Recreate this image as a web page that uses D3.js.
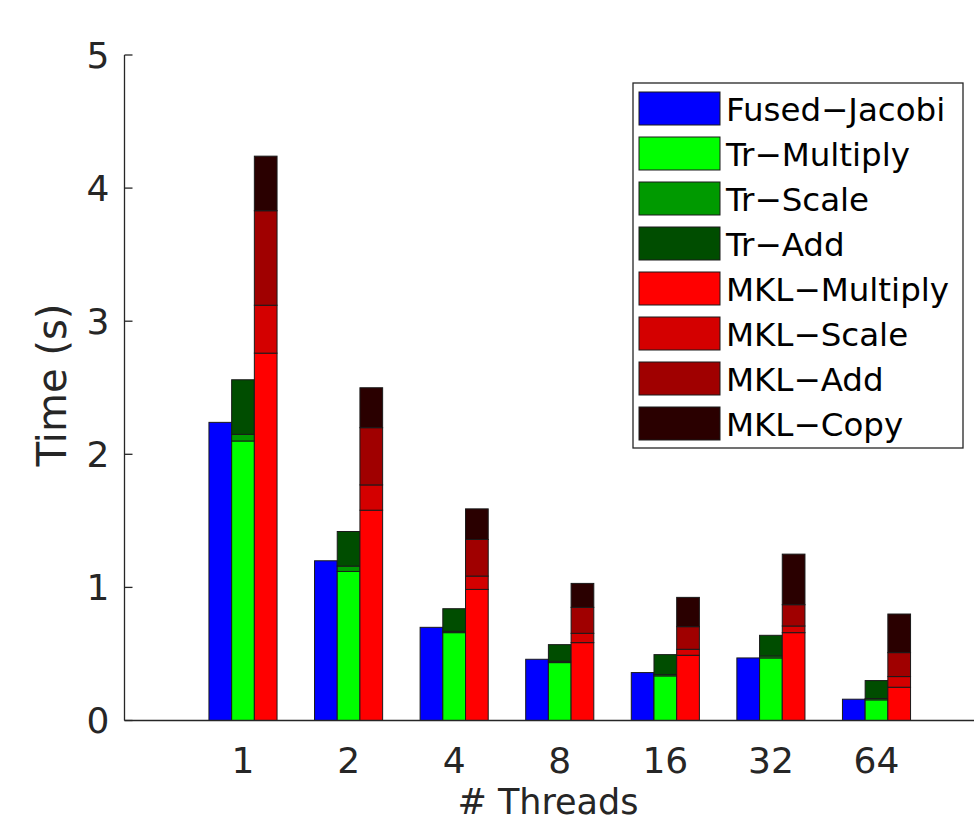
<!DOCTYPE html>
<html>
<head>
<meta charset="utf-8">
<script src="https://cdn.jsdelivr.net/npm/d3@7/dist/d3.min.js"></script>
<style>
  html, body { margin: 0; padding: 0; background: #fff; }
  svg { display: block; font-family: "DejaVu Sans", sans-serif; }
</style>
</head>
<body>
<svg id="chart" width="974" height="832"></svg>
<script>
// ---- data ----
const threads = ["1", "2", "4", "8", "16", "32", "64"];
const yTicks = [0, 1, 2, 3, 4, 5];
const seriesNames = ["Fused−Jacobi", "Tr−Multiply", "Tr−Scale", "Tr−Add", "MKL−Multiply", "MKL−Scale", "MKL−Add", "MKL−Copy"];
const seriesColors = ["#0000ff", "#00ff00", "#009a00", "#004d00", "#ff0000", "#d40000", "#a00000", "#2a0000"];
// segment heights (seconds)
const fusedJacobi = [2.24, 1.20, 0.70, 0.46, 0.36, 0.47, 0.16];
const trMultiply  = [2.10, 1.12, 0.66, 0.435, 0.335, 0.47, 0.155];
const trScale     = [0.05, 0.04, 0.01, 0.01, 0.01, 0.015, 0.01];
const trAdd       = [0.41, 0.26, 0.17, 0.125, 0.15, 0.155, 0.135];
const mklMultiply = [2.76, 1.58, 0.985, 0.585, 0.49, 0.66, 0.25];
const mklScale    = [0.36, 0.19, 0.10, 0.07, 0.045, 0.05, 0.08];
const mklAdd      = [0.71, 0.43, 0.275, 0.195, 0.17, 0.16, 0.18];
const mklCopy     = [0.41, 0.30, 0.23, 0.18, 0.22, 0.38, 0.29];

const bars = [
  { offset: -1, series: [0], values: [fusedJacobi] },
  { offset: 0, series: [1, 2, 3], values: [trMultiply, trScale, trAdd] },
  { offset: 1, series: [4, 5, 6, 7], values: [mklMultiply, mklScale, mklAdd, mklCopy] }
];

// ---- layout ----
const svg = d3.select("#chart");
const x = d3.scaleLinear().domain([1, 7]).range([243, 876.5]);
const xLeft = x.invert(124.5), xRight = x.invert(974);
const y = d3.scaleLinear().domain([0, 5]).range([720.5, 55]);
const barW = x(1.215) - x(1);
const axisColor = "#262626";

// ticks (drawn under bars)
svg.append("g").selectAll("line").data(threads).join("line")
  .attr("x1", (d, i) => x(i + 1)).attr("x2", (d, i) => x(i + 1))
  .attr("y1", y(0)).attr("y2", y(0) - 8)
  .attr("stroke", axisColor).attr("stroke-width", 1);

// bars
const segs = [];
bars.forEach(b => {
  threads.forEach((t, i) => {
    let cum = 0;
    b.values.forEach((arr, k) => {
      segs.push({ i, offset: b.offset, y0: cum, y1: cum + arr[i], color: seriesColors[b.series[k]] });
      cum += arr[i];
    });
  });
});
svg.append("g").selectAll("rect").data(segs).join("rect")
  .attr("x", d => x(d.i + 1) + d.offset * barW - barW / 2)
  .attr("width", barW)
  .attr("y", d => y(d.y1))
  .attr("height", d => y(d.y0) - y(d.y1))
  .attr("fill", d => d.color)
  .attr("stroke", "#1a1a1a").attr("stroke-width", 1);

// y axis
const yAxis = svg.append("g");
yAxis.append("line").attr("x1", x(xLeft)).attr("x2", x(xLeft))
  .attr("y1", y(0)).attr("y2", y(5)).attr("stroke", axisColor).attr("stroke-width", 1.3);
yAxis.selectAll(".tk").data(yTicks).join("line").attr("class", "tk")
  .attr("x1", x(xLeft)).attr("x2", x(xLeft) + 8)
  .attr("y1", d => y(d)).attr("y2", d => y(d))
  .attr("stroke", axisColor).attr("stroke-width", 1.3);
yAxis.selectAll("text").data(yTicks).join("text")
  .attr("x", x(xLeft) - 15).attr("y", d => y(d))
  .attr("dy", "0.36em").attr("text-anchor", "end")
  .attr("font-size", 36).attr("fill", axisColor)
  .text(d => d);

// x axis
const xAxis = svg.append("g");
xAxis.append("line").attr("x1", x(xLeft)).attr("x2", x(xRight))
  .attr("y1", y(0)).attr("y2", y(0)).attr("stroke", axisColor).attr("stroke-width", 1.3);
xAxis.selectAll("text").data(threads).join("text")
  .attr("x", (d, i) => x(i + 1)).attr("y", 773)
  .attr("text-anchor", "middle").attr("font-size", 36).attr("fill", axisColor)
  .text(d => d);

// axis titles
svg.append("text").attr("x", 548).attr("y", 814).attr("text-anchor", "middle")
  .attr("font-size", 35).attr("fill", axisColor).text("# Threads");
svg.append("text").attr("transform", "translate(66,385) rotate(-90)")
  .attr("text-anchor", "middle").attr("font-size", 40).attr("fill", axisColor).text("Time (s)");

// legend
const lg = svg.append("g");
lg.append("rect").attr("x", 633).attr("y", 83).attr("width", 330).attr("height", 365)
  .attr("fill", "#fff").attr("stroke", "#262626").attr("stroke-width", 1.3);
const rows = lg.selectAll("g.row").data(seriesNames).join("g").attr("class", "row")
  .attr("transform", (d, i) => `translate(639,${92 + i * 45})`);
rows.append("rect").attr("width", 81).attr("height", 33)
  .attr("fill", (d, i) => seriesColors[i]).attr("stroke", "#1a1a1a").attr("stroke-width", 1);
rows.append("text").attr("x", 87).attr("y", 17).attr("dy", "0.36em")
  .attr("font-size", 32.5).attr("fill", "#000").text(d => d);
</script>
</body>
</html>
